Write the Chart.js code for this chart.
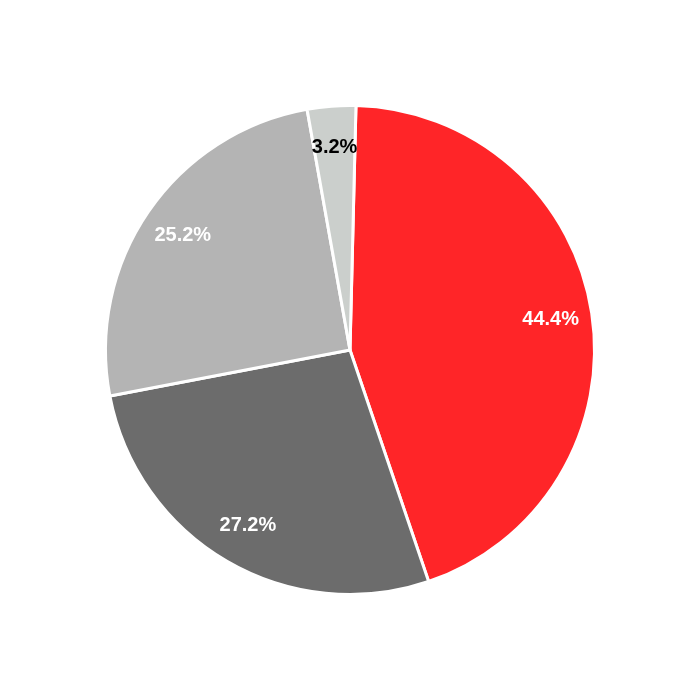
<!DOCTYPE html>
<html>
<head>
<meta charset="utf-8">
<script src="https://cdn.jsdelivr.net/npm/chart.js@4/dist/chart.umd.min.js"></script>
<style>
  html, body { margin: 0; padding: 0; background: #fff; }
  #wrap { width: 700px; height: 700px; }
</style>
</head>
<body>
<div id="wrap"><canvas id="pieChart"></canvas></div>
<script>
const labels = ["A", "B", "C", "D"];
const shares = [44.4, 27.2, 25.2, 3.2];
const sliceColors = ["#ff2528", "#6c6c6c", "#b4b4b4", "#cbcfcc"];
const labelColors = ["#ffffff", "#ffffff", "#ffffff", "#000000"];

// draws the percent text inside each slice
const pctLabels = {
  id: "pctLabels",
  afterDatasetsDraw(chart) {
    const ctx = chart.ctx;
    const meta = chart.getDatasetMeta(0);
    ctx.save();
    ctx.font = "bold 20px 'Liberation Sans', Arial, sans-serif";
    ctx.textAlign = "center";
    ctx.textBaseline = "middle";
    meta.data.forEach((arc, i) => {
      const mid = (arc.startAngle + arc.endAngle) / 2;
      const r = arc.outerRadius * 0.83;
      ctx.fillStyle = labelColors[i];
      ctx.fillText(shares[i].toFixed(1) + "%", arc.x + Math.cos(mid) * r, arc.y + Math.sin(mid) * r);
    });
    ctx.restore();
  },
};

new Chart(document.getElementById("pieChart"), {
  type: "pie",
  data: {
    labels: labels,
    datasets: [
      {
        data: shares,
        backgroundColor: sliceColors,
        borderColor: "#ffffff",
        borderWidth: 3,
      },
    ],
  },
  options: {
    responsive: true,
    maintainAspectRatio: false,
    animation: false,
    rotation: 1.4,
    layout: { padding: 104 },
    plugins: {
      legend: { display: false },
      tooltip: { enabled: false },
    },
  },
  plugins: [pctLabels],
});
</script>
</body>
</html>
